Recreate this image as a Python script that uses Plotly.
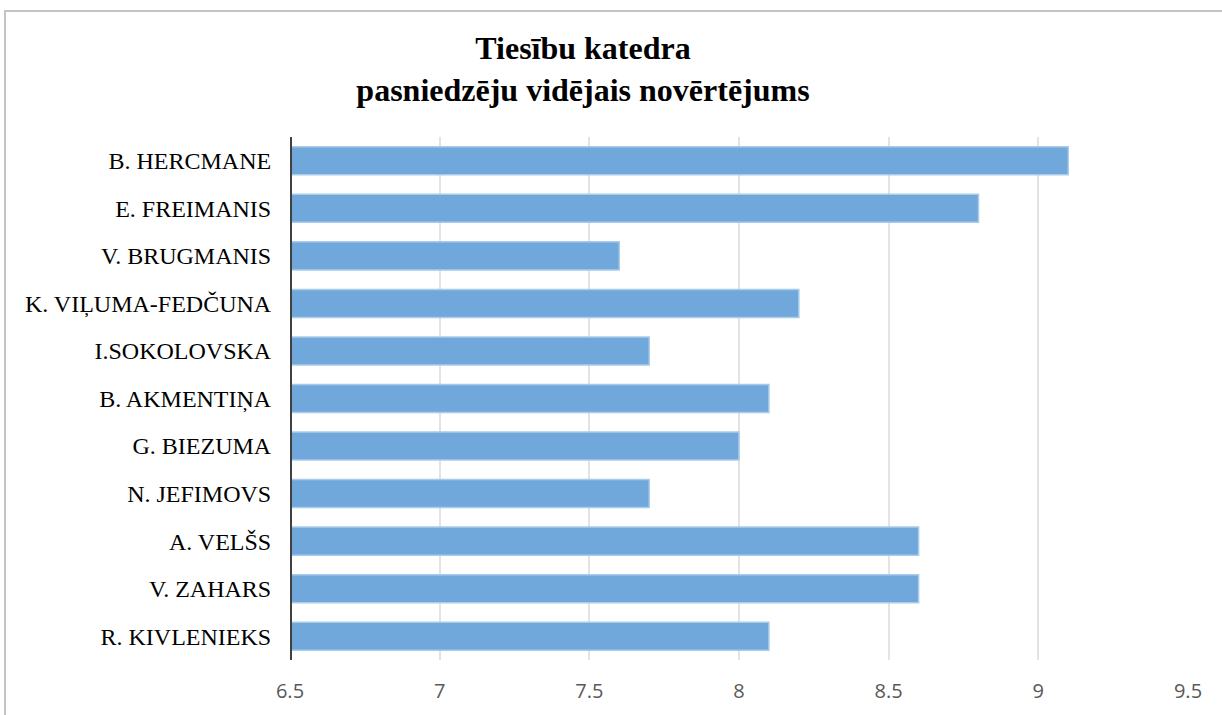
import plotly.graph_objects as go

names = [
    "B. HERCMANE", "E. FREIMANIS", "V. BRUGMANIS", "K. VIĻUMA-FEDČUNA",
    "I.SOKOLOVSKA", "B. AKMENTIŅA", "G. BIEZUMA", "N. JEFIMOVS",
    "A. VELŠS", "V. ZAHARS", "R. KIVLENIEKS",
]
scores = [9.1, 8.8, 7.6, 8.2, 7.7, 8.1, 8.0, 7.7, 8.6, 8.6, 8.1]
x_ticks = [6.5, 7, 7.5, 8, 8.5, 9, 9.5]

W, H = 1222, 715
ML, MR, MT, MB = 290, 34, 137, 55
pw, ph = W - ML - MR, H - MT - MB


def px_x(p):
    return (p - ML) / pw


def px_y(p):
    return (H - MB - p) / ph


fig = go.Figure(go.Bar(
    x=scores,
    y=names,
    orientation="h",
    width=0.59,
    marker=dict(color="#70A8DB", line=dict(color="#A9CBEA", width=1.5)),
))

fig.update_layout(
    width=W, height=H,
    margin=dict(l=ML, r=MR, t=MT, b=MB),
    plot_bgcolor="white", paper_bgcolor="white",
    showlegend=False,
    title=dict(
        text="Tiesību katedra<br>pasniedzēju vidējais novērtējums",
        font=dict(family="Liberation Serif", size=32, color="black", weight="bold"),
        x=583 / W, xanchor="center",
        y=1 - 59 / H, yanchor="middle",
    ),
    xaxis=dict(
        range=[6.5, 9.5], tickvals=x_ticks, ticktext=[str(t) for t in x_ticks],
        showgrid=True, gridcolor="#E3E3E3", gridwidth=1.5,
        zeroline=False, showline=False, ticks="",
        ticklabelstandoff=17,
        tickfont=dict(family="Open Sans", size=20, color="#595959"),
    ),
    yaxis=dict(
        autorange="reversed", showgrid=False, zeroline=False,
        ticks="outside", ticklen=13, tickcolor="white",
        tickfont=dict(family="Liberation Serif", size=24, color="black"),
    ),
    bargap=0.41,
)

# thick dark axis line at 6.5
fig.add_shape(type="line", xref="x", yref="paper", x0=6.5, x1=6.5, y0=0, y1=1,
              line=dict(color="#404040", width=4))

# outer chart border (cut by page edge on right and bottom)
fig.add_shape(type="rect", xref="paper", yref="paper",
              x0=px_x(5), x1=px_x(1240), y0=px_y(740), y1=px_y(11),
              line=dict(color="#C4C4C4", width=2), layer="below")

fig.write_html("out.html", config={"displayModeBar": False},
               post_script="document.body.style.margin='0';")
